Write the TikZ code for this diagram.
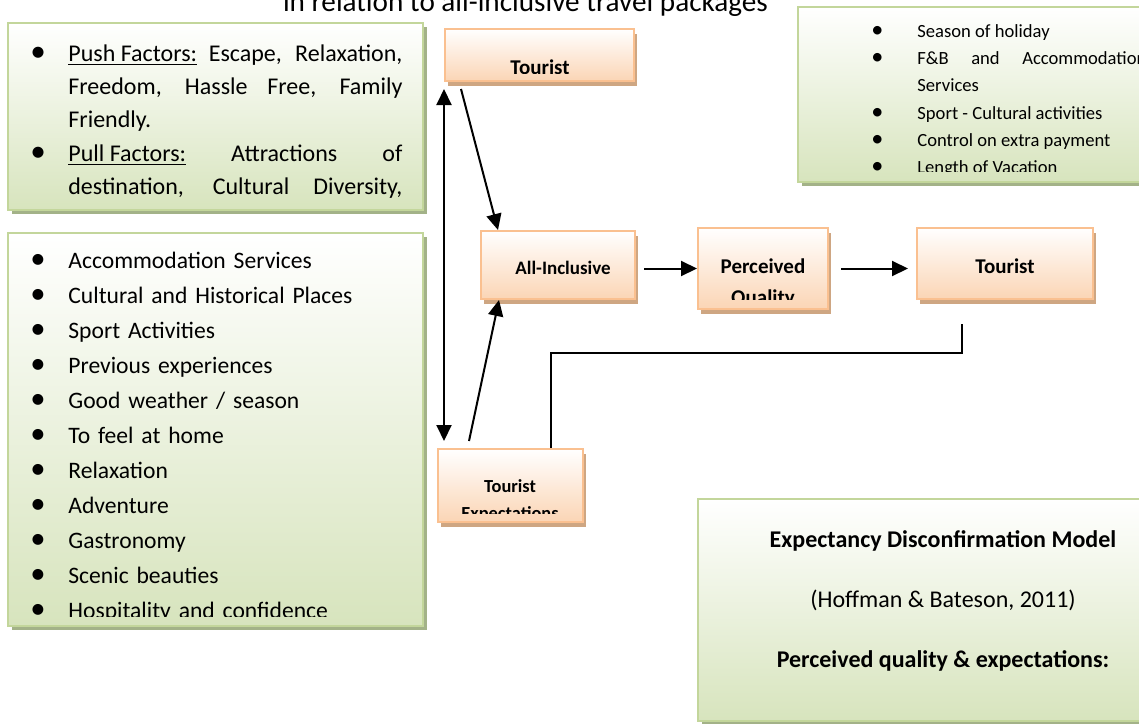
\documentclass[tikz,border=0pt]{standalone}
\usepackage{fontspec}
\setmainfont{Carlito}
\usepackage{tikz}
\usetikzlibrary{arrows.meta}
\usetikzlibrary{shadows}
\usetikzlibrary{calc}

\definecolor{boxorange}{RGB}{250,192,144}
\definecolor{filorange}{RGB}{251,213,181}
\definecolor{shdorange}{RGB}{206,166,130}
\definecolor{boxgreen}{RGB}{195,214,155}
\definecolor{filgreen}{RGB}{215,228,189}
\definecolor{shdgreen}{RGB}{163,178,136}

% one bullet point, hanging indent #1
\newcommand{\bitem}[2]{\noindent\hangindent=#1\hangafter=1\makebox[#1][l]{\scalebox{1.3}{\textbullet}}\strut #2\par}

\begin{document}
\begin{tikzpicture}[x=0.5pt, y=-0.5pt,
    obox/.style={draw=boxorange, line width=1pt, top color=white, bottom color=filorange,
                 drop shadow={shadow xshift=1.5pt, shadow yshift=-2.25pt, fill=shdorange, opacity=1}},
    gbox/.style={draw=boxgreen, line width=1pt, top color=white, bottom color=filgreen,
                 drop shadow={shadow xshift=2pt, shadow yshift=-1.75pt, fill=shdgreen, opacity=1}},
    btext/.style={font=\fontsize{10.5}{12}\selectfont\bfseries, inner sep=0pt, anchor=base},
    listtext/.style={inner sep=0pt, anchor=north west, align=left},
    arr/.style={-{Triangle[length=8pt, width=7.5pt]}, line width=1pt}]

  \useasboundingbox (0,0) rectangle (1139,723);

  \node[font=\fontsize{14.6}{17}\selectfont, inner sep=0pt, anchor=base] (title) at (525.5,11)
    {in relation to all-inclusive travel packages};

  % text boxes
  \node[gbox, minimum width=207.5pt, minimum height=93.5pt] (push) at (215.5,116.5) {};
  \node[gbox, minimum width=207.5pt, minimum height=196.5pt] (motiv) at (215.5,429.5) {};
  \node[gbox, minimum width=196pt, minimum height=87.5pt] (attr) at (994,94.5) {};
  \node[gbox, minimum width=245pt, minimum height=111pt] (edm) at (943,610) {};

  % model boxes
  \node[obox, minimum width=94.5pt, minimum height=26pt] (tourist) at (539.5,55) {};
  \node[obox, minimum width=77pt, minimum height=34pt] (allinc) at (558,265) {};
  \node[obox, minimum width=65pt, minimum height=40.5pt] (perc) at (763,268.5) {};
  \node[obox, minimum width=88pt, minimum height=35.5pt] (satisf) at (1005,263.5) {};
  \node[obox, minimum width=72.5pt, minimum height=36.5pt] (expect) at (510.5,485.5) {};

  % box labels, cut at the lower edge of the text area
  \begin{scope}
    \clip (tourist.north west) rectangle ($(tourist.south east)+(0,-9)$);
    \node[btext] (tourtxt) at (540,74.5) {Tourist};
  \end{scope}
  \node[btext, font=\fontsize{9.5}{11}\selectfont\bfseries] (alltxt) at (563,274) {All-Inclusive};
  \begin{scope}
    \clip (perc.north west) rectangle ($(perc.south east)+(0,-11)$);
    \node[btext] (perctxt) at (763,273) {Perceived};
    \node[btext] (qualtxt) at (763,304) {Quality};
  \end{scope}
  \node[btext] (sattxt) at (1005,273) {Tourist};
  \begin{scope}
    \clip (expect.north west) rectangle ($(expect.south east)+(0,-10)$);
    \node[btext, font=\fontsize{9.2}{11}\selectfont\bfseries] (exptxt) at (510,492) {Tourist};
    \node[btext, font=\fontsize{9.2}{11}\selectfont\bfseries] (exptxtb) at (510,519) {Expectations};
  \end{scope}

  \node[btext, font=\fontsize{12}{14}\selectfont\bfseries] (edma) at (943,547) {Expectancy Disconfirmation Model};
  \node[btext, font=\fontsize{12}{14}\selectfont] (edmb) at (943,607) {(Hoffman \& Bateson, 2011)};
  \node[btext, font=\fontsize{12}{14}\selectfont\bfseries] (edmc) at (943,667) {Perceived quality \& expectations:};

  % bullet lists
  \begin{scope}
    \clip (push.north west) rectangle (push.south east);
    \node[listtext, text width=186pt, align=justify, font=\fontsize{12}{16.6}\selectfont] (pushtxt) at (30,37.8) {%
      \bitem{19pt}{\underline{Push Factors:} Escape, Relaxation,\linebreak Freedom, Hassle Free, Family\linebreak Friendly.}
      \bitem{19pt}{\underline{Pull Factors:} Attractions of\linebreak destination, Cultural Diversity,\linebreak}};
  \end{scope}
  \begin{scope}
    \clip (motiv.north west) rectangle ($(motiv.south east)+(0,-11)$);
    \node[listtext, text width=195pt, font=\fontsize{11.8}{17.5}\selectfont] (motivtxt) at (30,243.5) {%
      \bitem{19pt}{Accommodation Services}
      \bitem{19pt}{Cultural and Historical Places}
      \bitem{19pt}{Sport Activities}
      \bitem{19pt}{Previous experiences}
      \bitem{19pt}{Good weather / season}
      \bitem{19pt}{To feel at home}
      \bitem{19pt}{Relaxation}
      \bitem{19pt}{Adventure}
      \bitem{19pt}{Gastronomy}
      \bitem{19pt}{Scenic beauties}
      \bitem{19pt}{Hospitality and confidence}};
  \end{scope}
  \begin{scope}
    \clip (attr.north west) rectangle ($(attr.south east)+(0,-12)$);
    \node[listtext, text width=137.5pt, align=justify, font=\fontsize{9.3}{13.6}\selectfont] (attrtxt) at (871,18) {%
      \bitem{23pt}{Season of holiday}
      \bitem{23pt}{F\&B and Accommodation\linebreak Services}
      \bitem{23pt}{Sport - Cultural activities}
      \bitem{23pt}{Control on extra payment}
      \bitem{23pt}{Length of Vacation}};
  \end{scope}

  % connectors
  \draw[{Triangle[length=8pt, width=7.5pt]}-{Triangle[length=8pt, width=7.5pt]}, line width=1pt]
    ($(tourist.south west)+(0,7)$) -- ($(tourist.south west |- expect.north)+(0,-7)$);
  \draw[arr] ($(tourist.south west)+(17,7)$) -- ($(allinc.north west)+(18,0)$);
  \draw[arr] ($(expect.north west)+(32,-7)$) -- ($(allinc.south west)+(19,0)$);
  \draw[arr] ($(allinc.east |- perc.west)+(8,0)$) -- (perc.west);
  \draw[arr] ($(perc.east)+(12,0)$) -- ($(satisf.west |- perc.east)+(-8,0)$);
  \draw[line width=0.8pt] ($(satisf.south west)+(46,24)$) -- ++(0,29) -| ($(expect.north)+(40.5,0)$);
\end{tikzpicture}
\end{document}
